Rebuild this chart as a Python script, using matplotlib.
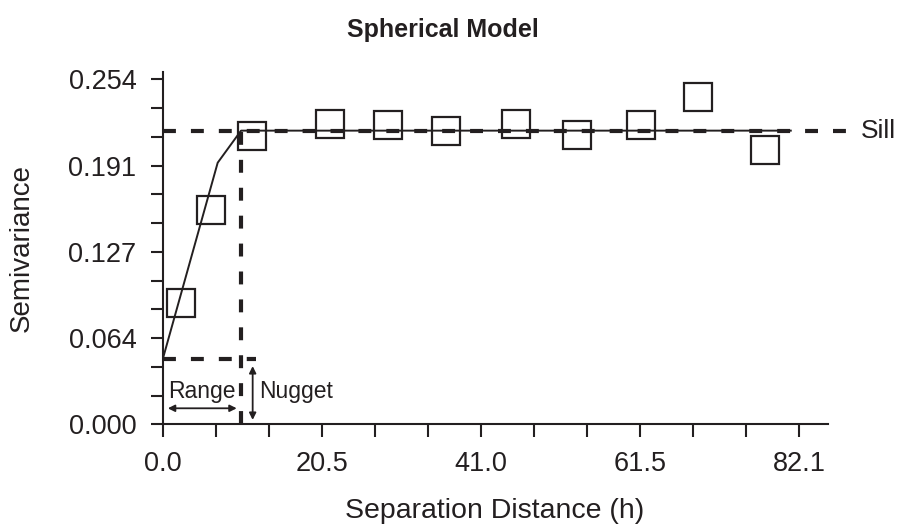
import numpy as np
import matplotlib
matplotlib.use('Agg')
import matplotlib.pyplot as plt
from matplotlib.ticker import MultipleLocator, FixedLocator

# observed semivariance (lag distance, semivariance)
lag_h = [2.39, 6.19, 11.48, 21.58, 29.09, 36.57, 45.53, 53.47, 61.65, 69.06, 77.71]
gamma = [0.0892, 0.1578, 0.2125, 0.2210, 0.2201, 0.2163, 0.2213, 0.2132, 0.2207, 0.2408, 0.2019]

# fitted spherical model, drawn as a polyline
model_h = [0.0, 7.09, 10.10, 81.0]
model_g = [0.0479, 0.1926, 0.2162, 0.2162]

nugget = 0.0479
sill = 0.2162
range_a = 10.10

x_ticks = [0.0, 20.525, 41.05, 61.575, 82.1]
x_labels = ['0.0', '20.5', '41.0', '61.5', '82.1']
y_ticks = [0.0, 0.0635, 0.127, 0.1905, 0.254]
y_labels = ['0.000', '0.064', '0.127', '0.191', '0.254']

ink = '#231f20'
plt.rcParams['font.family'] = ['Liberation Sans', 'DejaVu Sans']

fig = plt.figure(figsize=(9, 5.31), dpi=100)
ax = fig.add_axes([0.1808, 0.2009, 0.9200 - 0.1808, 0.8650 - 0.2009])

dash = (3.1, 3.6)
# sill line
ax.plot([0, 89.3], [sill, sill], color=ink, lw=3, dashes=dash, clip_on=False, zorder=2)
# nugget line
ax.plot([0, 12.03], [nugget, nugget], color=ink, lw=3, dashes=dash, zorder=2)
# range line
ax.plot([range_a, range_a], [0, sill], color=ink, lw=3, dashes=dash, zorder=2)

ax.plot(model_h, model_g, color=ink, lw=1.4, zorder=3)
ax.plot(lag_h, gamma, linestyle='none', marker='s', markersize=19.5,
        markerfacecolor='none', markeredgecolor=ink, markeredgewidth=1.6, zorder=4)

# annotation arrows
ax.annotate('', xy=(0.3, 0.0118), xytext=(9.9, 0.0118),
            arrowprops=dict(arrowstyle='<|-|>', color=ink, lw=1.3, mutation_scale=10))
ax.annotate('', xy=(11.6, 0.0449), xytext=(11.6, 0.0012),
            arrowprops=dict(arrowstyle='<|-|>', color=ink, lw=1.3, mutation_scale=10))
ax.text(0.7, 0.024, 'Range', fontsize=16.5, color=ink, va='center', ha='left')
ax.text(12.4, 0.024, 'Nugget', fontsize=16.5, color=ink, va='center', ha='left')
ax.text(90.0, sill, 'Sill', fontsize=19, color=ink, va='center', ha='left')

ax.set_xlim(0, 85.8)
ax.set_ylim(0, 0.2596)
ax.xaxis.set_major_locator(FixedLocator(x_ticks))
ax.set_xticklabels(x_labels)
ax.xaxis.set_minor_locator(MultipleLocator(82.1 / 12))
ax.yaxis.set_major_locator(FixedLocator(y_ticks))
ax.set_yticklabels(y_labels)
ax.yaxis.set_minor_locator(MultipleLocator(0.254 / 12))

for s in ['top', 'right']:
    ax.spines[s].set_visible(False)
for s in ['left', 'bottom']:
    ax.spines[s].set_linewidth(1.5)
    ax.spines[s].set_color(ink)

ax.tick_params(which='both', direction='out', length=9, width=1.5, color=ink)
ax.tick_params(which='major', labelsize=19.5, labelcolor=ink, pad=10)

fig.text(0.492, 1 - 30 / 531, 'Spherical Model', fontsize=18, fontweight='bold',
         color=ink, ha='center', va='center')
fig.text(0.55, 1 - 511 / 531, 'Separation Distance (h)', fontsize=20.5,
         color=ink, ha='center', va='center')
fig.text(22 / 900, 1 - 248 / 531, 'Semivariance', fontsize=20, color=ink,
         ha='center', va='center', rotation=90)

fig.savefig('out.png', dpi=100)
